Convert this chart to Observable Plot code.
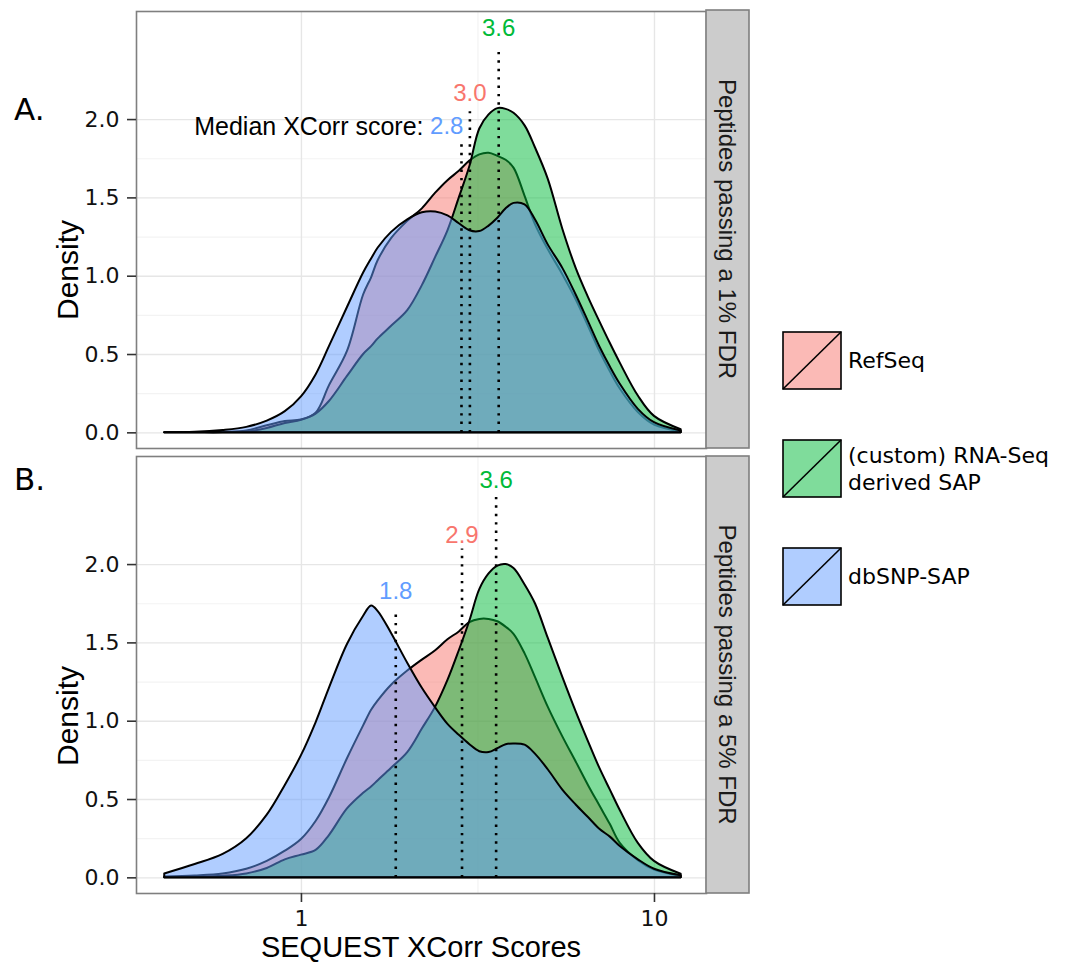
<!DOCTYPE html>
<html>
<head>
<meta charset="utf-8">
<script src="https://cdn.jsdelivr.net/npm/d3@7"></script>
<script src="https://cdn.jsdelivr.net/npm/@observablehq/plot@0.6"></script>
<style>
  html, body { margin: 0; padding: 0; background: #ffffff; }
  #chart { position: relative; width: 1068px; height: 964px; overflow: hidden; }
</style>
</head>
<body>
<div id="chart"></div>
<script>
// ---------------- data ----------------
const seriesNames = ["RefSeq", "(custom) RNA-Seq derived SAP", "dbSNP-SAP"];
const seriesColors = ["#F8766D", "#00BA38", "#619CFF"];
const panels = ["A", "B"];
const panelLetters = ["A.", "B."];
const stripLabels = ["Peptides passing a 1% FDR", "Peptides passing a 5% FDR"];

// XCorr score grid (log-spaced reading positions)
const xGrid = [0.41, 0.5, 0.6, 0.7, 0.8, 0.9, 1.0, 1.1, 1.2, 1.35, 1.5, 1.58, 1.65, 1.8, 2.0, 2.2, 2.4, 2.6, 2.8, 3.0, 3.2, 3.4, 3.6, 3.8, 4.0, 4.3, 4.6, 5.0, 5.5, 6.0, 6.5, 7.0, 7.5, 8.0, 9.0, 10.0, 11.9];

// Panel A: 1% FDR densities
const refseqA = [0, 0, 0.003, 0.012, 0.045, 0.072, 0.082, 0.125, 0.30, 0.52, 0.88, 0.99, 1.10, 1.24, 1.35, 1.43, 1.53, 1.61, 1.67, 1.735, 1.775, 1.785, 1.765, 1.74, 1.69, 1.51, 1.33, 1.17, 1.01, 0.85, 0.68, 0.52, 0.39, 0.28, 0.13, 0.05, 0.008];
const rnaA    = [0, 0, 0, 0.005, 0.028, 0.06, 0.08, 0.12, 0.20, 0.36, 0.50, 0.55, 0.60, 0.68, 0.78, 0.94, 1.12, 1.29, 1.50, 1.70, 1.94, 2.03, 2.07, 2.065, 2.04, 1.96, 1.82, 1.62, 1.30, 1.05, 0.865, 0.71, 0.57, 0.445, 0.235, 0.105, 0.02];
const dbsnpA  = [0, 0.003, 0.015, 0.035, 0.075, 0.135, 0.23, 0.37, 0.55, 0.80, 1.02, 1.11, 1.18, 1.28, 1.36, 1.405, 1.41, 1.385, 1.335, 1.29, 1.285, 1.32, 1.37, 1.43, 1.465, 1.455, 1.36, 1.20, 1.05, 0.88, 0.71, 0.55, 0.42, 0.31, 0.15, 0.065, 0.012];

// Panel B: 5% FDR densities
const refseqB = [0.005, 0.012, 0.025, 0.055, 0.105, 0.17, 0.245, 0.36, 0.51, 0.76, 0.97, 1.07, 1.13, 1.23, 1.32, 1.39, 1.45, 1.52, 1.57, 1.63, 1.65, 1.65, 1.635, 1.60, 1.555, 1.43, 1.28, 1.09, 0.90, 0.74, 0.59, 0.46, 0.34, 0.22, 0.11, 0.05, 0.01];
const rnaB    = [0, 0.003, 0.01, 0.025, 0.06, 0.115, 0.145, 0.175, 0.27, 0.44, 0.54, 0.58, 0.62, 0.70, 0.80, 0.95, 1.09, 1.26, 1.45, 1.64, 1.84, 1.94, 1.99, 2.0, 1.975, 1.87, 1.75, 1.53, 1.28, 1.06, 0.87, 0.70, 0.56, 0.43, 0.22, 0.105, 0.023];
const dbsnpB  = [0.025, 0.085, 0.15, 0.25, 0.40, 0.59, 0.78, 0.99, 1.21, 1.49, 1.67, 1.735, 1.70, 1.56, 1.37, 1.21, 1.085, 0.98, 0.91, 0.85, 0.805, 0.80, 0.825, 0.85, 0.855, 0.847, 0.79, 0.69, 0.56, 0.465, 0.385, 0.31, 0.26, 0.20, 0.115, 0.055, 0.013];

// Medians (dotted lines + labels)
const medianPanel  = ["A", "A", "A", "B", "B", "B"];
const medianSeries = ["RefSeq", "(custom) RNA-Seq derived SAP", "dbSNP-SAP", "RefSeq", "(custom) RNA-Seq derived SAP", "dbSNP-SAP"];
const medianX      = [3.0, 3.62, 2.84, 2.85, 3.56, 1.85];
const medianTop    = [2.05, 2.45, 1.85, 2.10, 2.45, 1.70];
const medianLabelY = [2.17, 2.58, 1.955, 2.19, 2.54, 1.83];
const medianLabel  = ["3.0", "3.6", "2.8", "2.9", "3.6", "1.8"];
const medianAlign  = ["middle", "middle", "end", "middle", "middle", "middle"];
const medianPrefix = "Median XCorr score:";

// Axis breaks
const majorXBreaks = [1, 10];
const minorXBreaks = [3.162];
const majorYBreaks = [0, 0.5, 1.0, 1.5, 2.0];
const minorYBreaks = [0.25, 0.75, 1.25, 1.75];

// ---------------- tidy tables ----------------
const seriesByPanel = { A: [refseqA, rnaA, dbsnpA], B: [refseqB, rnaB, dbsnpB] };
const densityRows = [];
for (const p of panels) {
  seriesByPanel[p].forEach((vals, si) => {
    xGrid.forEach((x, i) => densityRows.push({ panel: p, series: seriesNames[si], x, base: 0, density: vals[i] }));
  });
}
const medianRows = medianX.map((x, i) => ({
  panel: medianPanel[i], series: medianSeries[i], x, base: 0,
  top: medianTop[i], labelY: medianLabelY[i], label: medianLabel[i], align: medianAlign[i]
}));

// ---------------- layout ----------------
const W = 1068, H = 964;
const M = { left: 136, right: 362, top: 10, bottom: 71 };
const tickFont = "DejaVu Sans, Verdana, sans-serif";
const mainFont = "Liberation Sans, Arial, Helvetica, sans-serif";

const chart = Plot.plot({
  width: W, height: H,
  marginLeft: M.left, marginRight: M.right, marginTop: M.top, marginBottom: M.bottom,
  style: { background: "transparent", fontFamily: mainFont, overflow: "visible" },
  x: { type: "log", domain: [0.341, 14.04], label: null },
  y: { domain: [-0.10, 2.69], label: null },
  fy: { domain: panels, paddingInner: 0.018, paddingOuter: 0, axis: null, label: null },
  color: { domain: seriesNames, range: seriesColors },
  marks: [
    Plot.gridY(minorYBreaks, { stroke: "#f3f3f3", strokeOpacity: 1, strokeWidth: 1.2 }),
    Plot.gridX(minorXBreaks, { stroke: "#f3f3f3", strokeOpacity: 1, strokeWidth: 1.2 }),
    Plot.gridY(majorYBreaks, { stroke: "#e6e6e6", strokeOpacity: 1, strokeWidth: 1.4 }),
    Plot.gridX(majorXBreaks, { stroke: "#e6e6e6", strokeOpacity: 1, strokeWidth: 1.4 }),
    Plot.areaY(densityRows, {
      x: "x", y1: "base", y2: "density", fy: "panel", z: "series", fill: "series",
      fillOpacity: 0.5, stroke: "black", strokeWidth: 2, strokeLinejoin: "round", curve: "catmull-rom"
    }),
    Plot.ruleX(medianRows, {
      x: "x", y1: "base", y2: "top", fy: "panel",
      stroke: "black", strokeWidth: 2.6, strokeDasharray: "2.4,6"
    }),
    Plot.text(medianRows.filter(d => d.align === "middle"), {
      x: "x", y: "labelY", fy: "panel", text: "label", fill: "series",
      fontSize: 24, fontFamily: mainFont, textAnchor: "middle", lineAnchor: "middle"
    }),
    Plot.text(medianRows.filter(d => d.align === "end"), {
      x: "x", y: "labelY", fy: "panel", text: "label", fill: "series",
      fontSize: 24, fontFamily: mainFont, textAnchor: "end", lineAnchor: "middle", dx: 2
    }),
    Plot.text(medianRows.filter(d => d.align === "end"), {
      x: "x", y: "labelY", fy: "panel", text: () => medianPrefix, fill: "black",
      fontSize: 25, fontFamily: mainFont, textAnchor: "end", lineAnchor: "middle", dx: -38
    }),
    Plot.frame({ stroke: "#7f7f7f", strokeWidth: 1.6 }),
    Plot.axisX(majorXBreaks, {
      tickFormat: d => String(d), tickSize: 9, tickPadding: 8,
      fontSize: 22, fontFamily: tickFont, stroke: "#333", strokeWidth: 1.6, fill: "#111", label: null
    }),
    Plot.axisY(majorYBreaks, {
      tickFormat: d3.format(".1f"), tickSize: 9, tickPadding: 8,
      fontSize: 22, fontFamily: tickFont, stroke: "#333", strokeWidth: 1.6, fill: "#111", label: null
    })
  ]
});

const host = document.getElementById("chart");
host.appendChild(chart);

// ---------------- overlays: strips, labels, legend ----------------
const svg = d3.select(chart);
const panelBoxes = [{ top: 10, bottom: 448 }, { top: 456, bottom: 893 }];
const stripX = 1068 - M.right, stripW = 43;

panelBoxes.forEach((b, i) => {
  svg.append("rect")
    .attr("x", stripX).attr("y", b.top).attr("width", stripW).attr("height", b.bottom - b.top)
    .attr("fill", "#cccccc").attr("stroke", "#7f7f7f").attr("stroke-width", 1.6);
  svg.append("text")
    .attr("transform", `translate(${stripX + stripW / 2},${(b.top + b.bottom) / 2}) rotate(90)`)
    .attr("text-anchor", "middle").attr("dominant-baseline", "central")
    .attr("font-family", mainFont).attr("font-size", 24).attr("fill", "#1a1a1a")
    .text(stripLabels[i]);
  // "Density" y-axis title
  svg.append("text")
    .attr("transform", `translate(78,${b.top + 260}) rotate(-90)`)
    .attr("text-anchor", "middle")
    .attr("font-family", mainFont).attr("font-size", 30).attr("fill", "#000")
    .text("Density");
});

// panel letters
svg.append("text").attr("x", 14).attr("y", 120).attr("text-anchor", "start")
  .attr("font-family", tickFont).attr("font-size", 31).attr("fill", "#000").text(panelLetters[0]);
svg.append("text").attr("x", 14).attr("y", 490).attr("text-anchor", "start")
  .attr("font-family", tickFont).attr("font-size", 31).attr("fill", "#000").text(panelLetters[1]);

// x-axis title
svg.append("text").attr("x", (M.left + 1068 - M.right) / 2).attr("y", 957)
  .attr("text-anchor", "middle").attr("font-family", mainFont).attr("font-size", 29).attr("fill", "#000")
  .text("SEQUEST XCorr Scores");

// legend
const legendTops = [332, 440, 548];
const legendLines = [["RefSeq"], ["(custom) RNA-Seq", "derived SAP"], ["dbSNP-SAP"]];
const keyX = 783, keyW = 58, keyH = 57;
seriesNames.forEach((name, i) => {
  const g = svg.append("g").attr("transform", `translate(${keyX},${legendTops[i]})`);
  g.append("rect").attr("width", keyW).attr("height", keyH)
    .attr("fill", seriesColors[i]).attr("fill-opacity", 0.5)
    .attr("stroke", "#000").attr("stroke-width", 1.6);
  g.append("line").attr("x1", 0).attr("y1", keyH).attr("x2", keyW).attr("y2", 0)
    .attr("stroke", "#000").attr("stroke-width", 1.6);
  const lines = legendLines[i];
  const lh = 27;
  const cy = keyH / 2 - (lines.length - 1) * lh / 2;
  lines.forEach((t, j) => {
    g.append("text").attr("x", keyW + 7).attr("y", cy + j * lh)
      .attr("text-anchor", "start").attr("dominant-baseline", "central")
      .attr("font-family", tickFont).attr("font-size", 22).attr("fill", "#000").text(t);
  });
});
</script>
</body>
</html>
